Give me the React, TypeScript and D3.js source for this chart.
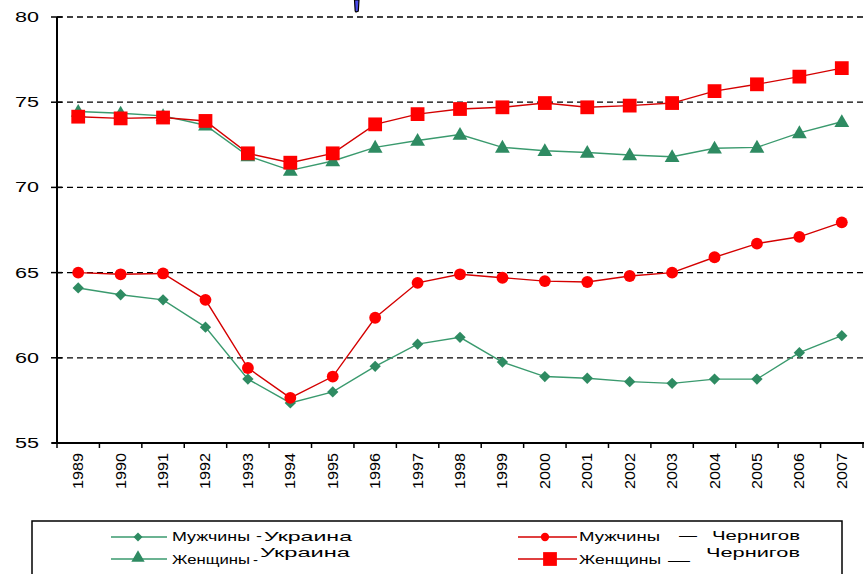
import React from "react";
import * as d3 from "d3";

const years = ["1989","1990","1991","1992","1993","1994","1995","1996","1997","1998","1999","2000","2001","2002","2003","2004","2005","2006","2007"];
const menUkraine = [64.1, 63.7, 63.4, 61.8, 58.75, 57.35, 58.0, 59.5, 60.8, 61.2, 59.75, 58.9, 58.8, 58.6, 58.5, 58.75, 58.75, 60.3, 61.3];
const womenUkraine = [74.45, 74.35, 74.2, 73.65, 71.85, 71.0, 71.55, 72.35, 72.75, 73.1, 72.35, 72.15, 72.05, 71.9, 71.8, 72.3, 72.35, 73.2, 73.85];
const menChernigov = [65.0, 64.9, 64.95, 63.4, 59.4, 57.65, 58.9, 62.35, 64.4, 64.9, 64.7, 64.5, 64.45, 64.8, 65.0, 65.9, 66.7, 67.1, 67.95];
const womenChernigov = [74.15, 74.05, 74.1, 73.9, 72.0, 71.45, 72.0, 73.7, 74.3, 74.6, 74.7, 74.95, 74.7, 74.8, 74.95, 75.65, 76.05, 76.5, 77.0];
const yTicks = [55, 60, 65, 70, 75, 80];

const GREEN = "#2e8b62";
const GREEN_LINE = "#3a9a6e";
const RED = "#ff0000";
const RED_LINE = "#d40000";
const FONT = "'Liberation Sans', Arial, sans-serif";

function T(props: { x: number; y: number; len: number; s: string; size?: number }) {
  return (
    <text x={props.x} y={props.y} textLength={props.len} lengthAdjust="spacingAndGlyphs" fontSize={props.size ?? 13}>{props.s}</text>
  );
}

export default function App() {
  const W = 866, H = 574;
  const x = d3.scaleBand<string>().domain(years).range([57, 863]);
  const y = d3.scaleLinear().domain([55, 80]).range([443, 17]);
  const cx = (i: number) => (x(years[i]) as number) + x.bandwidth() / 2;
  const line = d3.line<number>().x((_, i) => cx(i)).y((d) => y(d));

  const sym = (type: d3.SymbolType, size: number) => d3.symbol().type(type).size(size)() as string;
  const diamond = sym(d3.symbolSquare, 64);
  const triangle = sym(d3.symbolTriangle, 95);
  const square = sym(d3.symbolSquare, 190);
  const circle = sym(d3.symbolCircle, 110);

  const series = [
    { data: menUkraine, stroke: GREEN_LINE, fill: GREEN, shape: diamond, rot: 45, dy: 0 },
    { data: womenUkraine, stroke: GREEN_LINE, fill: GREEN, shape: triangle, rot: 0, dy: 1 },
    { data: menChernigov, stroke: RED_LINE, fill: RED, shape: circle, rot: 0, dy: 0 },
    { data: womenChernigov, stroke: RED_LINE, fill: RED, shape: square, rot: 0, dy: 0 },
  ];

  const boundaries = d3.range(years.length + 1).map((i) => 57 + i * x.step());

  return (
    <svg width={W} height={H} style={{ position: "absolute", left: 0, top: 0, background: "#fff" }}>
      <rect x={0} y={0} width={W} height={H} fill="#fff" />
      {/* blue fragment at top */}
      <path d="M354.5,0 L359,0 L358.3,11 L356,12 L355.2,11 Z" fill="#4a4ae8" stroke="#000" strokeWidth={1.2} />

      {/* grid lines */}
      {yTicks.filter((t) => t > 55).map((t) => (
        <line key={t} x1={57} x2={866} y1={y(t)} y2={y(t)} stroke="#000" strokeWidth={1.3} strokeDasharray="6,4" />
      ))}

      {/* y axis */}
      <line x1={57} x2={57} y1={17} y2={444} stroke="#000" strokeWidth={2} />
      <g fontFamily={FONT} fill="#000">
        {yTicks.map((t) => (
          <g key={t}>
            <line x1={51} x2={62} y1={y(t)} y2={y(t)} stroke="#000" strokeWidth={1.5} />
            <T x={15} y={y(t) + 5} len={24} s={String(t)} size={14} />
          </g>
        ))}
      </g>

      {/* x axis */}
      <line x1={52} x2={864} y1={443} y2={443} stroke="#000" strokeWidth={2} />
      {boundaries.map((b, i) => (
        <line key={i} x1={b} x2={b} y1={443} y2={448} stroke="#000" strokeWidth={1.5} />
      ))}
      {years.map((yr, i) => (
        <text key={yr} transform={`translate(${cx(i) + 5},${489}) rotate(-90)`} textLength={36} lengthAdjust="spacingAndGlyphs" fontFamily={FONT} fontSize={14} fill="#000">{yr}</text>
      ))}

      {/* series */}
      {series.map((s, k) => (
        <g key={k}>
          <path d={line(s.data) as string} fill="none" stroke={s.stroke} strokeWidth={1.4} />
          {s.data.map((v, i) => (
            <path key={i} d={s.shape} transform={`translate(${cx(i)},${y(v) + s.dy}) rotate(${s.rot})`} fill={s.fill} />
          ))}
        </g>
      ))}

      {/* legend */}
      <rect x={32} y={521} width={810} height={60} fill="#fff" stroke="#000" strokeWidth={1.5} />
      <g fontFamily={FONT} fill="#000">
        <line x1={111} x2={167} y1={537} y2={537} stroke={GREEN_LINE} strokeWidth={1.4} />
        <path d={diamond} transform="translate(138,537) rotate(45) scale(0.8)" fill={GREEN} />
        <T x={172} y={541} len={78} s="Мужчины" />
        <T x={256} y={540} len={6} s="-" />
        <T x={264} y={541} len={88} s="Украина" />

        <line x1={111} x2={167} y1={559} y2={559} stroke={GREEN_LINE} strokeWidth={1.4} />
        <path d={triangle} transform="translate(138,558) scale(0.9)" fill={GREEN} />
        <T x={172} y={564} len={78} s="Женщины" />
        <T x={253} y={564} len={5} s="-" />
        <T x={260} y={557} len={90} s="Украина" size={12} />

        <line x1={518} x2={577} y1={537} y2={537} stroke={RED_LINE} strokeWidth={1.4} />
        <path d={circle} transform="translate(545,537) scale(0.7)" fill={RED} />
        <T x={579} y={541} len={81} s="Мужчины" />
        <T x={679} y={540} len={18} s="—" />
        <T x={712} y={540} len={88} s="Чернигов" />

        <line x1={518} x2={577} y1={559} y2={559} stroke={RED_LINE} strokeWidth={1.4} />
        <path d={square} transform="translate(550,559)" fill={RED} />
        <T x={579} y={564} len={82} s="Женщины" />
        <T x={668} y={565} len={22} s="—" />
        <T x={706} y={557} len={94} s="Чернигов" size={12} />
      </g>
    </svg>
  );
}
